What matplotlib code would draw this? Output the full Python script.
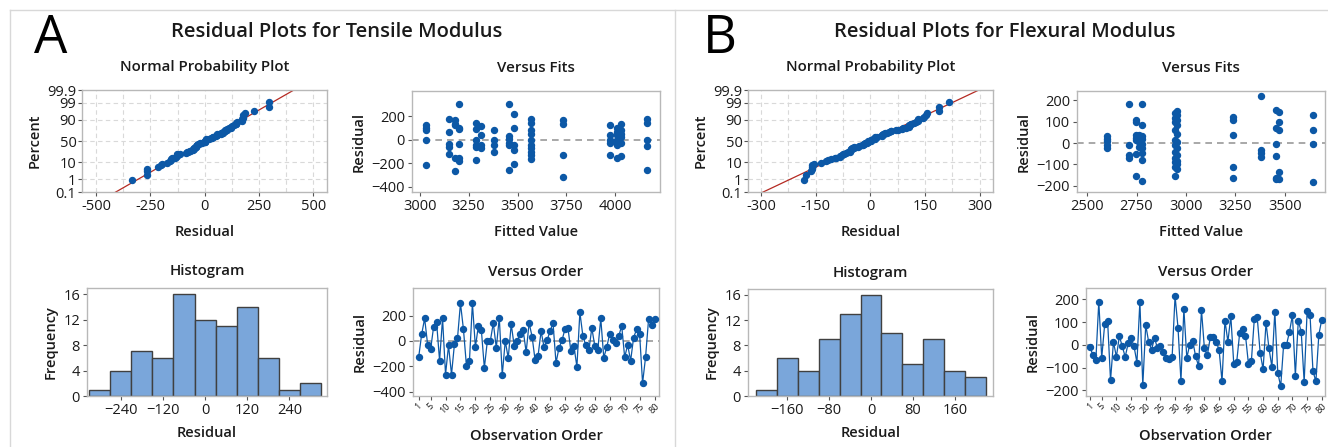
import numpy as np
import matplotlib
matplotlib.use("Agg")
import matplotlib.pyplot as plt
from matplotlib.lines import Line2D
from statistics import NormalDist

plt.rcParams['font.family'] = ['Open Sans', 'DejaVu Sans']

# ---------------- data ----------------
# Residuals in observation order
resid_A = [-128, 53, 178, -28, -67, 112, 147, -155, 178, -265,
           -35, -265, -20, 20, 298, 92, -195, -160, 298, -48,
           120, 85, -213, 0, 0, 143, -55, 185, -268, 0,
           -135, 133, -40, 0, 58, 85, -88, 143, 33, -152,
           -115, 77, -48, 5, 77, 143, -173, -55, 5, 93,
           103, -83, -40, -203, 227, 40, -35, -75, 103, -40,
           -70, 178, -133, -48, 58, 5, -13, 37, 120, -128,
           -32, -155, 27, 93, 58, -333, -128, 170, 125, 170]
resid_B = [-9, -46, -68, 190, -57, 90, 106, -156, 13, -53,
           38, -6, -53, 6, 31, -6, -78, 190, -178, 87,
           13, -21, 31, -16, -6, -31, -57, -62, -53, 215,
           75, -159, 157, -57, 1, 18, -50, -93, 153, -16,
           -46, 33, 36, 14, -22, -160, 107, 14, 126, -83,
           -76, 50, 70, 41, -83, -73, 113, 121, -35, -107,
           97, -15, -97, 146, -122, -183, 1, 1, 58, 131,
           -136, 107, 56, -164, 147, 130, -115, -161, 45, 111]

# Versus fits: fitted level -> residuals at that level
vf_A_levels = [3034, 3151, 3182, 3199, 3289, 3313, 3378, 3459, 3483, 3570,
               3731, 3973, 4007, 4027, 4160]
vf_A_groups = [[122, 102, 85, 0, -213],
               [179, 63, -37, -65, -125],
               [170, 136, 122, -153, -267],
               [301, 102, 88, -37, -153, -185],
               [142, 88, 0, -48, -62, -176],
               [114, 43, -48, -71],
               [80, 0, -48, -105],
               [301, 28, 9, -28, -43, -261],
               [222, 102, -48, -85, -205],
               [179, 142, 80, 51, 0, -43, -71, -105, -134, -162],
               [170, 131, -128, -321],
               [122, 37, 0, -28, -134],
               [102, 65, 37, 0, -28, -48, -156],
               [131, 85, 51, 23, -28, -142],
               [179, 142, 0, -57, -261]]
vf_B_levels = [2601, 2713, 2745, 2762, 2778, 2945, 2957, 3239, 3378, 3455,
               3472, 3641]
vf_B_groups = [[31, 20, 9, -11, -22],
               [183, -11, -55, -68],
               [106, 96, 35, 24, 12, -52, -155],
               [35, 20, 5, -20],
               [183, 84, 33, 18, -5, -25, -47, -80, -176],
               [140, 118, 100, 62, 15, -10, -40, -70, -90, -112, -155],
               [148, 128, 108, 85, 40, 5, -25, -55, -82, -100, -122],
               [121, 109, 36, -112, -161],
               [217, -31, -47, -65],
               [152, 71, -6, -59, -161, -166],
               [144, 98, 59, -135, -166],
               [129, 59, -6, -181]]

# Histograms
hist_A_centers = [-300, -240, -180, -120, -60, 0, 60, 120, 180, 240, 300]
hist_A_counts = [1, 4, 7, 6, 16, 12, 11, 14, 6, 1, 2]
hist_B_centers = [-200, -160, -120, -80, -40, 0, 40, 80, 120, 160, 200]
hist_B_counts = [1, 6, 4, 9, 13, 16, 10, 5, 9, 4, 3]

pct_ticks = [0.1, 1, 10, 50, 90, 99, 99.9]
pct_labels = ['0.1', '1', '10', '50', '90', '99', '99.9']
order_ticks = [1, 5, 10, 15, 20, 25, 30, 35, 40, 45, 50, 55, 60, 65, 70, 75, 80]

# ---------------- style ----------------
W, H = 1328, 447
BLUE = '#0c58a6'
BAR = '#7aa6da'
RED = '#b52a22'
SPINE = '#b8b8b8'
TXT = '#1a1a1a'
TICKFS = 10.5
LABFS = 10.5
SUBFS = 10.8

fig = plt.figure(figsize=(W / 100, H / 100), dpi=100)
fig.patch.set_facecolor('white')


def rect(l, t, r, b):
    return [l / W, 1 - b / H, (r - l) / W, (b - t) / H]


def style(ax):
    for s in ax.spines.values():
        s.set_color(SPINE)
        s.set_linewidth(1.0)
    ax.tick_params(axis='both', which='both', length=3, width=0.8,
                   color='#555555', labelsize=TICKFS, labelcolor=TXT, pad=2)


nd = NormalDist()


def npp(ax, res, xlim, xticks, grid_x, title):
    res = np.array(res, dtype=float)
    n = len(res)
    s = np.sort(res)
    p = (np.arange(1, n + 1) - 0.3) / (n + 0.4)
    z = np.array([nd.inv_cdf(v) for v in p])
    mu, sd = res.mean(), res.std(ddof=1)
    zl = np.array([-4.0, 4.0])
    zlim = nd.inv_cdf(0.001)
    for gx in grid_x:
        ax.axvline(gx, color='#d9d9d9', lw=0.8, ls=(0, (4, 3)), zorder=0)
    for pt in [1, 10, 50, 90, 99]:
        ax.axhline(nd.inv_cdf(pt / 100), color='#d9d9d9', lw=0.8,
                   ls=(0, (4, 3)), zorder=0)
    ax.plot(mu + zl * sd, zl, color=RED, lw=0.9, zorder=2)
    ax.plot(s, z, 'o', color=BLUE, ms=4.3, zorder=3, mec=BLUE)
    ax.set_xlim(*xlim)
    ax.set_ylim(zlim, -zlim)
    ax.set_yticks([nd.inv_cdf(v / 100) for v in pct_ticks])
    ax.set_yticklabels(pct_labels)
    ax.set_xticks(xticks)
    ax.set_xticklabels([f'{v:g}' for v in xticks])
    style(ax)
    ax.tick_params(axis='y', pad=1)
    ax.set_title(title, fontsize=SUBFS, fontweight='semibold', color=TXT, pad=14)
    ax.set_xlabel('Residual', fontsize=LABFS, fontweight='semibold', color=TXT, labelpad=8)
    ax.set_ylabel('Percent', fontsize=LABFS, fontweight='semibold', color=TXT, labelpad=4)


def vfits(ax, levels, groups, xlim, ylim, xticks, yticks):
    xs, ys = [], []
    for lv, g in zip(levels, groups):
        xs += [lv] * len(g)
        ys += g
    ax.axhline(0, color='#9a9a9a', lw=1.2, ls=(0, (4, 3)), zorder=1)
    ax.plot(xs, ys, 'o', color=BLUE, ms=4.3, mec=BLUE, zorder=3)
    ax.set_xlim(*xlim)
    ax.set_ylim(*ylim)
    ax.set_xticks(xticks)
    ax.set_yticks(yticks)
    style(ax)
    ax.set_title('Versus Fits', fontsize=SUBFS, fontweight='semibold', color=TXT, pad=14)
    ax.set_xlabel('Fitted Value', fontsize=LABFS, fontweight='semibold', color=TXT, labelpad=8)
    ax.set_ylabel('Residual', fontsize=LABFS, fontweight='semibold', color=TXT, labelpad=4)


def hist(ax, centers, counts, width, xlim, xticks):
    ax.bar(centers, counts, width=width, color=BAR, edgecolor='#404040',
           linewidth=1.0, zorder=2)
    ax.set_xlim(*xlim)
    ax.set_ylim(0, 16.95)
    ax.set_yticks([0, 4, 8, 12, 16])
    ax.set_xticks(xticks)
    style(ax)
    ax.set_title('Histogram', fontsize=SUBFS, fontweight='semibold', color=TXT, pad=9)
    ax.set_xlabel('Residual', fontsize=LABFS, fontweight='semibold', color=TXT, labelpad=6)
    ax.set_ylabel('Frequency', fontsize=LABFS, fontweight='semibold', color=TXT, labelpad=4)


def vorder(ax, res, xlim, ylim, yticks):
    obs = np.arange(1, len(res) + 1)
    ax.axhline(0, color='#9a9a9a', lw=1.2, ls=(0, (4, 3)), zorder=1)
    ax.plot(obs, res, '-o', color=BLUE, lw=0.9, ms=4.3, mec=BLUE, zorder=3)
    ax.set_xlim(*xlim)
    ax.set_ylim(*ylim)
    ax.set_yticks(yticks)
    ax.set_xticks(order_ticks)
    style(ax)
    ax.set_xticklabels([str(t) for t in order_ticks], rotation=45,
                       fontsize=6.5, ha='center', va='top')
    ax.tick_params(axis='x', pad=1)
    ax.set_title('Versus Order', fontsize=SUBFS, fontweight='semibold', color=TXT, pad=9)
    ax.set_xlabel('Observation Order', fontsize=LABFS, fontweight='semibold',
                  color=TXT, labelpad=10)
    ax.set_ylabel('Residual', fontsize=LABFS, fontweight='semibold', color=TXT, labelpad=4)


# ---------------- panel A ----------------
ax = fig.add_axes(rect(82, 90, 327, 192))
npp(ax, resid_A, (-565, 563), [-500, -250, 0, 250, 500],
    np.arange(-500, 501, 125), 'Normal Probability Plot')

ax = fig.add_axes(rect(412, 91, 660, 192))
vfits(ax, vf_A_levels, vf_A_groups, (2961, 4228), (-446, 415),
      [3000, 3250, 3500, 3750, 4000], [-400, -200, 0, 200])

ax = fig.add_axes(rect(87, 288, 327, 396))
hist(ax, hist_A_centers, hist_A_counts, 60, (-336, 347),
     [-240, -120, 0, 120, 240])

ax = fig.add_axes(rect(413, 288, 659, 396))
vorder(ax, resid_A, (-0.9, 81.5), (-435, 419), [-400, -200, 0, 200])

# ---------------- panel B ----------------
ax = fig.add_axes(rect(748, 90, 993, 192))
npp(ax, resid_B, (-336, 337), [-300, -150, 0, 150, 300],
    np.arange(-300, 301, 75), 'Normal Probability Plot')

ax = fig.add_axes(rect(1077, 91, 1325, 192))
vfits(ax, vf_B_levels, vf_B_groups, (2449, 3703), (-228, 242),
      [2500, 2750, 3000, 3250, 3500], [-200, -100, 0, 100, 200])

ax = fig.add_axes(rect(748, 289, 993, 396))
hist(ax, hist_B_centers, hist_B_counts, 40, (-235, 233),
     [-160, -80, 0, 80, 160])

ax = fig.add_axes(rect(1086, 288, 1325, 396))
vorder(ax, resid_B, (-0.36, 81.1), (-225, 250), [-200, -100, 0, 100, 200])

# ---------------- titles, letters, frame ----------------
fig.text(337 / W, 1 - 32 / H, 'Residual Plots for Tensile Modulus', fontsize=14.5,
         fontweight='semibold', ha='center', va='center', color=TXT)
fig.text(1005 / W, 1 - 32 / H, 'Residual Plots for Flexural Modulus', fontsize=14.5,
         fontweight='semibold', ha='center', va='center', color=TXT)
fig.text(34 / W, 1 - 39 / H, 'A', fontsize=38, ha='left', va='center', color='black')
fig.text(703 / W, 1 - 39 / H, 'B', fontsize=38, ha='left', va='center', color='black')

frame_kw = dict(color='#d8d8d8', lw=1.0, transform=fig.transFigure)
fig.add_artist(Line2D([10 / W, 1], [1 - 10 / H, 1 - 10 / H], **frame_kw))
fig.add_artist(Line2D([10 / W, 10 / W], [0, 1 - 10 / H], **frame_kw))
fig.add_artist(Line2D([675 / W, 675 / W], [0, 1 - 10 / H], **frame_kw))

fig.savefig('out.png', dpi=100, facecolor='white')
